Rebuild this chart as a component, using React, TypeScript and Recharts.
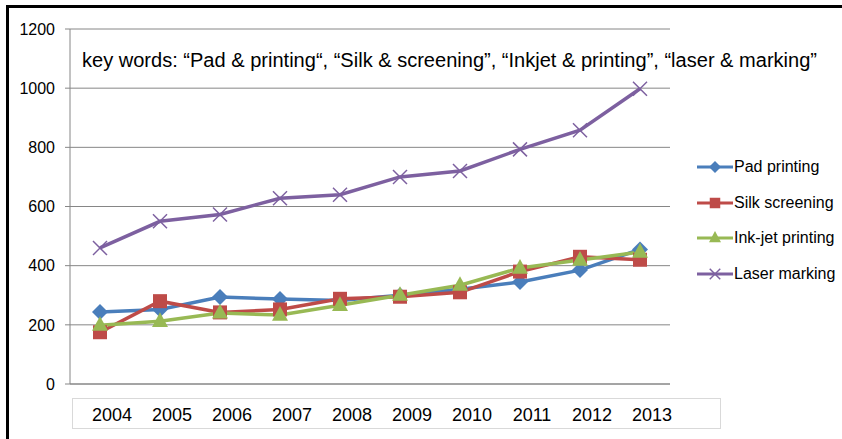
import { LineChart, Line, XAxis, YAxis, CartesianGrid } from "recharts"

const years = ["2004", "2005", "2006", "2007", "2008", "2009", "2010", "2011", "2012", "2013"]
const padPrinting = [243, 252, 294, 287, 282, 300, 320, 345, 385, 455]
const silkScreening = [175, 280, 242, 252, 288, 295, 310, 380, 430, 420]
const inkjetPrinting = [199, 212, 240, 233, 266, 300, 334, 392, 419, 446]
const laserMarking = [460, 550, 573, 628, 640, 700, 720, 793, 858, 998]
const yTicks = [0, 200, 400, 600, 800, 1000, 1200]

const series = [
  { key: "pad", name: "Pad printing", color: "#4a7ebb", shape: "diamond" },
  { key: "silk", name: "Silk screening", color: "#be4b48", shape: "square" },
  { key: "inkjet", name: "Ink-jet printing", color: "#98b954", shape: "triangle" },
  { key: "laser", name: "Laser marking", color: "#7d60a0", shape: "x" },
]

const data = years.map((year, i) => ({
  year,
  pos: i + 0.5,
  pad: padPrinting[i],
  silk: silkScreening[i],
  inkjet: inkjetPrinting[i],
  laser: laserMarking[i],
}))

const FONT = "'Liberation Sans', Arial, sans-serif"
const TITLE = "key words: “Pad & printing“, “Silk & screening”, “Inkjet & printing”, “laser & marking”"

function Marker({ cx, cy, shape, color, small }: any) {
  if (cx == null || cy == null) return null
  const k = small ? 0.75 : 1
  if (shape === "diamond") {
    const r = 8 * k
    return <polygon points={`${cx},${cy - r} ${cx + r},${cy} ${cx},${cy + r} ${cx - r},${cy}`} fill={color} />
  }
  if (shape === "square") {
    const r = 7 * k
    return <rect x={cx - r} y={cy - r} width={2 * r} height={2 * r} fill={color} />
  }
  if (shape === "triangle") {
    const r = 8 * k
    return <polygon points={`${cx},${cy - r - 1} ${cx + r},${cy + r * 0.7} ${cx - r},${cy + r * 0.7}`} fill={color} />
  }
  const r = 7 * k
  return (
    <g stroke={color} strokeWidth={1.5}>
      <line x1={cx - r} y1={cy - r} x2={cx + r} y2={cy + r} />
      <line x1={cx - r} y1={cy + r} x2={cx + r} y2={cy - r} />
    </g>
  )
}

function LegendBox() {
  return (
    <div style={{ position: "absolute", left: 697, top: 149, fontFamily: FONT, fontSize: 16, color: "#000" }}>
      {series.map((s) => (
        <div key={s.key} style={{ display: "flex", alignItems: "center", height: 35.7 }}>
          <svg width={37} height={20} style={{ display: "block" }}>
            <line x1={0} y1={10} x2={36} y2={10} stroke={s.color} strokeWidth={3} />
            <Marker cx={18} cy={10} shape={s.shape} color={s.color} small />
          </svg>
          <span style={{ whiteSpace: "nowrap" }}>{s.name}</span>
        </div>
      ))}
    </div>
  )
}

export default function App() {
  return (
    <div style={{ position: "absolute", left: 0, top: 0, width: 842, height: 439, background: "#fff", overflow: "hidden" }}>
      <div style={{ position: "absolute", left: 6, top: 5, width: 900, height: 500, borderLeft: "3px solid #000", borderTop: "3px solid #000" }} />
      <div style={{ position: "absolute", left: 72, top: 398, width: 647, height: 29, border: "1px solid #d9d9d9" }} />
      <LineChart width={842} height={439} data={data} margin={{ top: 29, right: 172, bottom: 0, left: 0 }} style={{ position: "absolute", left: 0, top: 0 }}>
        <CartesianGrid vertical={false} stroke="#868686" strokeWidth={1} />
        <YAxis
          domain={[0, 1200]}
          ticks={yTicks}
          width={70}
          axisLine={{ stroke: "#868686" }}
          tickLine={{ stroke: "#868686" }}
          tickSize={5}
          tickMargin={10}
          tick={{ fill: "#000", fontSize: 16, fontFamily: FONT }}
        />
        <XAxis
          xAxisId={0}
          type="number"
          dataKey="pos"
          domain={[0, 10]}
          ticks={[0, 1, 2, 3, 4, 5, 6, 7, 8, 9, 10]}
          height={10}
          tick={false}
          tickSize={7}
          axisLine={{ stroke: "#868686" }}
          tickLine={{ stroke: "#868686" }}
        />
        <XAxis
          xAxisId="labels"
          type="number"
          dataKey="pos"
          domain={[0, 10]}
          ticks={data.map((d) => d.pos)}
          tickFormatter={(v: number) => years[Math.floor(v)]}
          height={45}
          axisLine={false}
          tickLine={false}
          tickMargin={8}
          tick={{ fill: "#000", fontSize: 18, fontFamily: FONT, dx: 12 }}
        />
        {series.map((s) => (
          <Line
            key={s.key}
            dataKey={s.key}
            name={s.name}
            stroke={s.color}
            strokeWidth={3.5}
            isAnimationActive={false}
            dot={(p: any) => <Marker key={`${s.key}-${p.index}`} cx={p.cx} cy={p.cy} shape={s.shape} color={s.color} />}
            activeDot={false}
          />
        ))}
      </LineChart>
      <svg width={842} height={439} style={{ position: "absolute", left: 0, top: 0, pointerEvents: "none" }}>
        <text x={82} y={67} fontFamily={FONT} fontSize={20} fill="#000" textLength={735} lengthAdjust="spacingAndGlyphs">
          {TITLE}
        </text>
      </svg>
      <LegendBox />
    </div>
  )
}
